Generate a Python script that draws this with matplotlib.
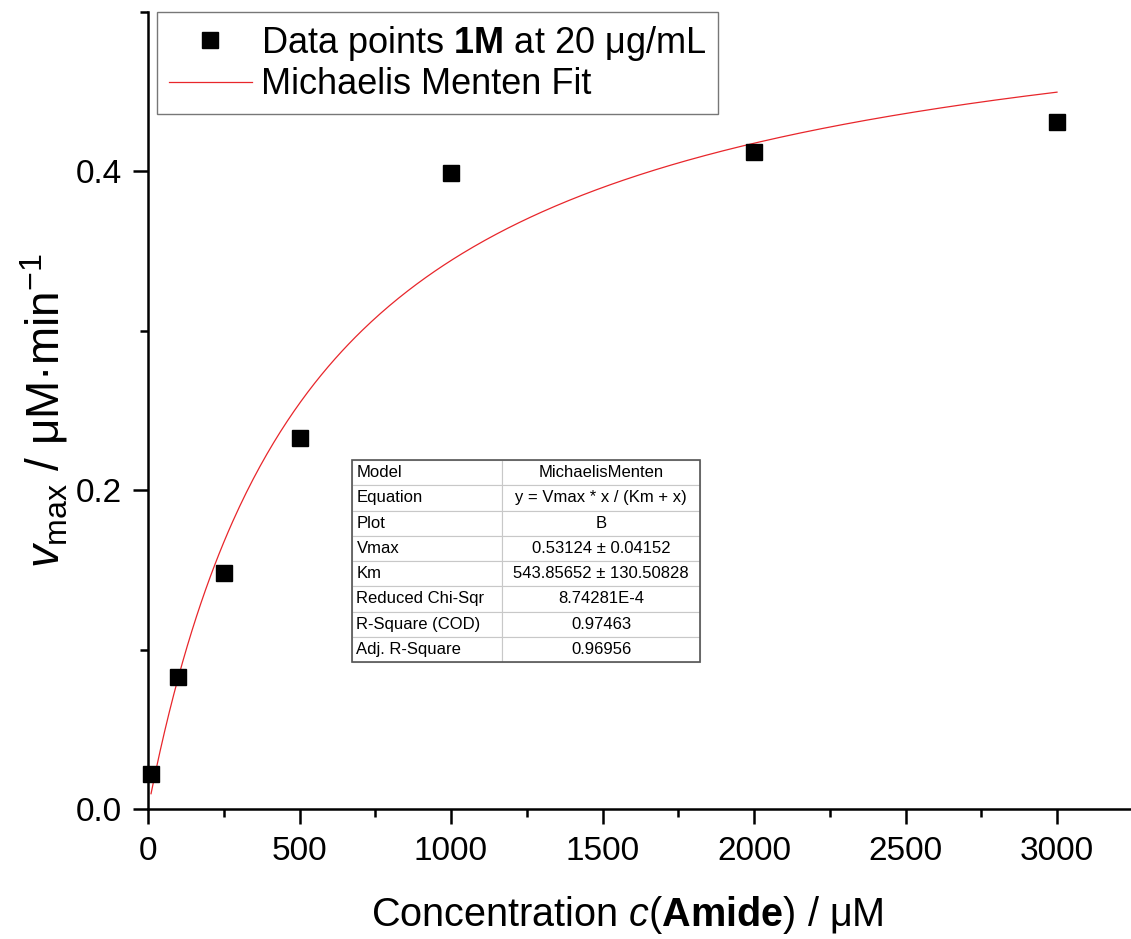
import numpy as np
import matplotlib
matplotlib.use("Agg")
import matplotlib.pyplot as plt
from matplotlib.ticker import MultipleLocator
from matplotlib.patches import Rectangle

plt.rcParams['font.family'] = ['Liberation Sans', 'DejaVu Sans']
plt.rcParams['mathtext.fontset'] = 'custom'
plt.rcParams['mathtext.rm'] = 'Liberation Sans'
plt.rcParams['mathtext.it'] = 'Liberation Sans:italic'
plt.rcParams['mathtext.bf'] = 'Liberation Sans:bold'

# measured data
conc = [10, 100, 250, 500, 1000, 2000, 3000]
rate = [0.022, 0.083, 0.148, 0.233, 0.399, 0.412, 0.431]

# fit parameters from the table
vmax = 0.53124
km = 543.85652

table_labels = ["Model", "Equation", "Plot", "Vmax", "Km",
                "Reduced Chi-Sqr", "R-Square (COD)", "Adj. R-Square"]
table_values = ["MichaelisMenten", "y = Vmax * x / (Km + x)", "B",
                "0.53124 \u00b1 0.04152", "543.85652 \u00b1 130.50828",
                "8.74281E-4", "0.97463", "0.96956"]

fig = plt.figure(figsize=(11.31, 9.39), dpi=100)
ax = fig.add_axes([148/1131, 1 - 809/939, 1 - 148/1131, (809 - 12)/939])

# fit curve
xf = np.linspace(conc[0], conc[-1], 400)
ax.plot(xf, vmax * xf / (km + xf), color='#e8262b', lw=0.9,
        label='Michaelis Menten Fit', zorder=2)
ax.plot(conc, rate, 's', color='black', ms=12, clip_on=False,
        label=r'Data points $\mathbf{1M}$ at 20 μg/mL', zorder=3)

ax.set_xlim(0, (1131 - 148) / (909 / 3000))
ax.set_ylim(0, 0.5)
ax.xaxis.set_major_locator(MultipleLocator(500))
ax.xaxis.set_minor_locator(MultipleLocator(250))
ax.yaxis.set_major_locator(MultipleLocator(0.2))
ax.yaxis.set_minor_locator(MultipleLocator(0.1))
ax.yaxis.set_major_formatter(matplotlib.ticker.FormatStrFormatter('%.1f'))

for s in ['top', 'right']:
    ax.spines[s].set_visible(False)
for s in ['left', 'bottom']:
    ax.spines[s].set_linewidth(1.8)
ax.tick_params(which='major', direction='out', length=10.5, width=1.8,
               labelsize=24)
ax.tick_params(axis='y', which='major', pad=8)
ax.tick_params(axis='x', which='major', pad=9)
ax.tick_params(which='minor', direction='out', length=6, width=1.8)

ax.set_xlabel(r'Concentration $c$($\mathbf{Amide}$) / μM', fontsize=28.5)
ax.xaxis.set_label_coords((627 - 148) / 983, -0.107)
ax.set_ylabel(r'$v_{\rm max}$ / μM·min$^{-1}$', fontsize=33, labelpad=4)

handles, labels = ax.get_legend_handles_labels()
leg = ax.legend(handles[::-1], labels[::-1], loc='upper left',
                bbox_to_anchor=(9/983, 1.0), fontsize=26, frameon=True,
                fancybox=False, edgecolor='#555555', handlelength=2.3,
                borderpad=0.33, labelspacing=0.12, handletextpad=0.25,
                borderaxespad=0)
leg.get_frame().set_linewidth(1.0)

# parameter table
x0, x1 = (352 - 148) / 983, (700 - 148) / 983
y0, y1 = (809 - 662) / 797, (809 - 460) / 797
tab = ax.table(cellText=[[a, b] for a, b in zip(table_labels, table_values)],
               colWidths=[150 / 348, 198 / 348],
               bbox=[x0, y0, x1 - x0, y1 - y0], zorder=4)
tab.auto_set_font_size(False)
tab.set_fontsize(12)
for (r, c), cell in tab.get_celld().items():
    cell.set_edgecolor('#c8c8c8')
    cell.set_linewidth(0.8)
    cell.set_facecolor('white')
    cell.get_text().set_ha('left' if c == 0 else 'center')
    if c == 0:
        cell.PAD = 0.03
ax.add_patch(Rectangle((x0, y0), x1 - x0, y1 - y0, transform=ax.transAxes,
                       fill=False, edgecolor='#555555', lw=1.2, zorder=5))

fig.savefig("out.png", dpi=100)
